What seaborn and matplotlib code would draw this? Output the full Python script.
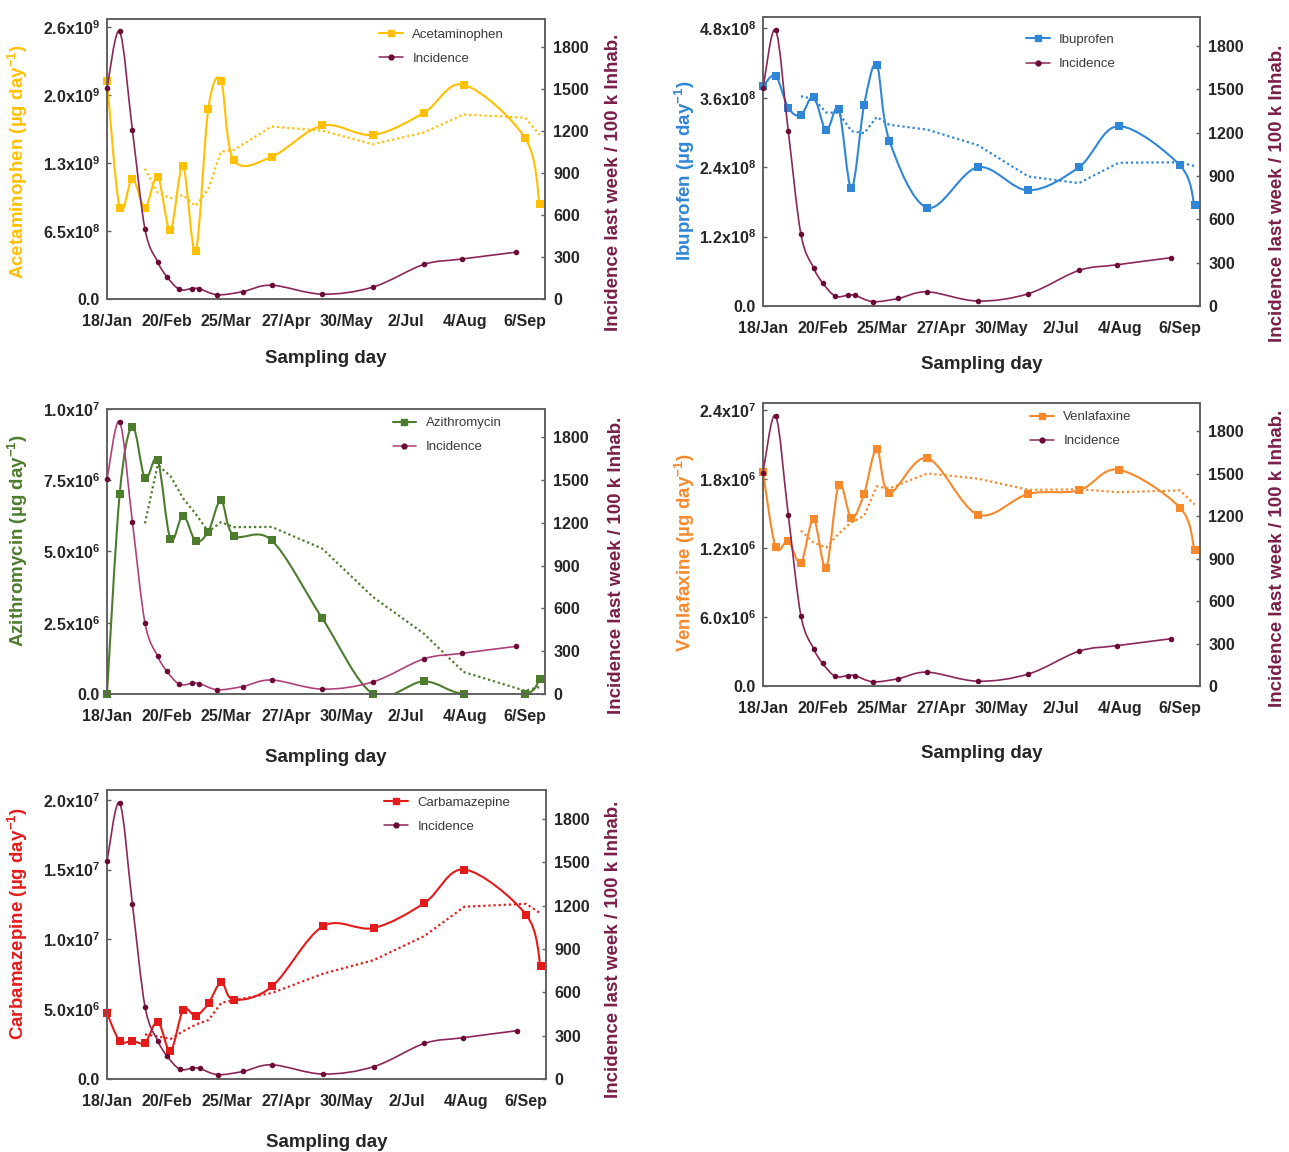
import numpy as np
import pandas as pd
import matplotlib
matplotlib.use("Agg")
import matplotlib.pyplot as plt
from matplotlib.path import Path
from matplotlib.patches import PathPatch
from matplotlib.lines import Line2D
import seaborn as sns

# days counted from 18 Jan (2021)
sample_day = [0, 7, 14, 21, 28, 35, 42, 49, 56, 63, 70, 91, 119, 147, 175, 197, 231, 239]
incid_day = [0, 7, 14, 21, 28, 33, 40, 47, 51, 61, 75, 91, 119, 147, 175, 196, 226]
incidence = [1505, 1910, 1210, 498, 265, 160, 68, 74, 73, 30, 52, 98, 34, 85, 246, 285, 334]

acetaminophen = [2.09e9, 8.75e8, 1.15e9, 8.75e8, 1.17e9, 6.6e8, 1.27e9, 4.6e8, 1.82e9, 2.09e9,
                 1.33e9, 1.36e9, 1.66e9, 1.57e9, 1.78e9, 2.05e9, 1.54e9, 9.1e8]
ibuprofen = [3.80e8, 3.98e8, 3.43e8, 3.30e8, 3.62e8, 3.04e8, 3.40e8, 2.04e8, 3.47e8, 4.17e8,
             2.86e8, 1.70e8, 2.40e8, 2.00e8, 2.40e8, 3.11e8, 2.43e8, 1.74e8]
azithromycin = [0, 7.0e6, 9.38e6, 7.57e6, 8.21e6, 5.44e6, 6.26e6, 5.37e6, 5.70e6, 6.79e6,
                5.56e6, 5.39e6, 2.65e6, 0, 4.4e5, 0, 0, 5.4e5]
venlafaxine = [1.86e7, 1.21e7, 1.26e7, 1.07e7, 1.45e7, 1.03e7, 1.75e7, 1.46e7, 1.67e7, 2.06e7,
               1.68e7, 1.98e7, 1.49e7, 1.67e7, 1.70e7, 1.88e7, 1.55e7, 1.18e7]
carbamazepine = [4.71e6, 2.73e6, 2.73e6, 2.61e6, 4.11e6, 2.01e6, 4.95e6, 4.52e6, 5.43e6, 6.91e6,
                 5.67e6, 6.63e6, 1.093e7, 1.081e7, 1.26e7, 1.50e7, 1.177e7, 8.06e6]

x_ticks = [0, 33, 66, 99, 132, 165, 198, 231]
x_labels = ["18/Jan", "20/Feb", "25/Mar", "27/Apr", "30/May", "2/Jul", "4/Aug", "6/Sep"]
inc_ticks = [0, 300, 600, 900, 1200, 1500, 1800]

acet_ticks = [0, 6.5e8, 1.3e9, 1.95e9, 2.6e9]
acet_labels = ["0.0", r"6.5x10$^{\mathbf{8}}$", r"1.3x10$^{\mathbf{9}}$", r"2.0x10$^{\mathbf{9}}$", r"2.6x10$^{\mathbf{9}}$"]
ibu_ticks = [0, 1.2e8, 2.4e8, 3.6e8, 4.8e8]
ibu_labels = ["0.0", r"1.2x10$^{\mathbf{8}}$", r"2.4x10$^{\mathbf{8}}$", r"3.6x10$^{\mathbf{8}}$", r"4.8x10$^{\mathbf{8}}$"]
azi_ticks = [0, 2.5e6, 5.0e6, 7.5e6, 1.0e7]
azi_labels = ["0.0", r"2.5x10$^{\mathbf{6}}$", r"5.0x10$^{\mathbf{6}}$", r"7.5x10$^{\mathbf{6}}$", r"1.0x10$^{\mathbf{7}}$"]
ven_ticks = [0, 6e6, 1.2e7, 1.8e7, 2.4e7]
ven_labels = ["0.0", r"6.0x10$^{\mathbf{6}}$", r"1.2x10$^{\mathbf{6}}$", r"1.8x10$^{\mathbf{6}}$", r"2.4x10$^{\mathbf{7}}$"]
car_ticks = [0, 5e6, 1.0e7, 1.5e7, 2.0e7]
car_labels = ["0.0", r"5.0x10$^{\mathbf{6}}$", r"1.0x10$^{\mathbf{7}}$", r"1.5x10$^{\mathbf{7}}$", r"2.0x10$^{\mathbf{7}}$"]

sns.set_style("white")
plt.rcParams["font.family"] = ["Liberation Sans", "DejaVu Sans"]
plt.rcParams["mathtext.fontset"] = "custom"
plt.rcParams["mathtext.rm"] = "Liberation Sans"
plt.rcParams["mathtext.bf"] = "Liberation Sans:bold"
plt.rcParams["axes.edgecolor"] = "#5e5e5e"
plt.rcParams["axes.linewidth"] = 1.1

INC_MARK = "#6b0a36"
INC_LABEL = "#7a1f4a"


def smooth_path(x, y):
    # excel-like smoothed line: cubic bezier through the points
    pts = np.column_stack([x, y]).astype(float)
    n = len(pts)
    verts = [pts[0]]
    codes = [Path.MOVETO]
    for i in range(n - 1):
        p0 = pts[max(i - 1, 0)]
        p1 = pts[i]
        p2 = pts[i + 1]
        p3 = pts[min(i + 2, n - 1)]
        verts += [p1 + (p2 - p0) / 6, p2 - (p3 - p1) / 6, p2]
        codes += [Path.CURVE4] * 3
    return Path(verts, codes)


# name, data, colour, axes rect, ymax, ticks, ticklabels, incidence line colour,
# legend anchor, xlabel pad, left label pos, right label pos
panels = [
    ("Acetaminophen", acetaminophen, "#ffc000", [0.0830, 0.7405, 0.3398, 0.2431], 2.68e9,
     acet_ticks, acet_labels, "#8a2758", (0.61, 0.985), 15.5, (-0.176, 0.49), (1.137, 0.418)),
    ("Ibuprofen", ibuprofen, "#2f86d6", [0.5919, 0.7344, 0.3390, 0.2509], 5.0e8,
     ibu_ticks, ibu_labels, "#8a2758", (0.59, 0.96), 15, (-0.151, 0.467), (1.157, 0.39)),
    ("Azithromycin", azithromycin, "#4d7c2e", [0.0830, 0.3976, 0.3398, 0.2474], 1.0e7,
     azi_ticks, azi_labels, "#b0407a", (0.64, 0.99), 18, (-0.176, 0.54), (1.144, 0.453)),
    ("Venlafaxine", venlafaxine, "#f7892b", [0.5919, 0.4045, 0.3390, 0.2457], 2.46e7,
     ven_ticks, ven_labels, "#8a2758", (0.60, 0.99), 21, (-0.151, 0.47), (1.157, 0.452)),
    ("Carbamazepine", carbamazepine, "#e31b1b", [0.0830, 0.0634, 0.3406, 0.2509], 2.07e7,
     car_ticks, car_labels, "#8a2758", (0.62, 0.995), 18.5, (-0.176, 0.536), (1.134, 0.45)),
]

fig = plt.figure(figsize=(12.89, 11.52), dpi=100)

for (name, vals, color, rect, ytop, yt, yl, inc_line, leg_pos, xpad,
     lpos, rpos) in panels:
    ax = fig.add_axes(rect)
    ax2 = ax.twinx()

    trend = pd.Series(vals).rolling(4).mean()
    df = pd.DataFrame({"day": sample_day, "load": vals, "trend": trend})

    ax.add_patch(PathPatch(smooth_path(df["day"], df["load"]), facecolor="none",
                           edgecolor=color, lw=1.5, zorder=2))
    sns.lineplot(data=df, x="day", y="trend", ax=ax, color=color, lw=1.6,
                 linestyle=(0, (1, 1.3)), zorder=1)
    sns.scatterplot(data=df, x="day", y="load", ax=ax, marker="s", s=32, color=color,
                    edgecolor=color, linewidth=0, clip_on=False, zorder=3)

    ax2.add_patch(PathPatch(smooth_path(incid_day, incidence), facecolor="none",
                            edgecolor=inc_line, lw=1.2, zorder=2))
    sns.scatterplot(x=incid_day, y=incidence, ax=ax2, marker="o", s=16, color=INC_MARK,
                    edgecolor=INC_MARK, linewidth=0, clip_on=False, zorder=3)

    ax.set_xlim(0, 242)
    ax.set_ylim(0, ytop)
    ax2.set_ylim(0, 2000)

    ax.set_xticks(x_ticks)
    ax.set_xticklabels(x_labels, fontsize=11.5, fontweight="bold")
    ax.set_yticks(yt)
    ax.set_yticklabels(yl, fontsize=11.5, fontweight="bold")
    ax2.set_yticks(inc_ticks)
    ax2.set_yticklabels([str(t) for t in inc_ticks], fontsize=11.5, fontweight="bold")

    ax.tick_params(axis="x", direction="in", length=4, width=1, color="#5e5e5e", pad=10.5)
    ax.tick_params(axis="y", direction="in", length=3, width=1, color="#5e5e5e", pad=5)
    ax2.tick_params(axis="y", direction="in", length=3, width=1, color="#5e5e5e", pad=6)

    ax.set_xlabel("Sampling day", fontsize=13.5, fontweight="bold", labelpad=xpad)
    ax.set_ylabel(name + r" (µg day$^{\mathbf{-1}}$)", fontsize=13.5, fontweight="bold",
                  color=color)
    ax.yaxis.set_label_coords(*lpos)
    ax2.set_ylabel("Incidence last week / 100 k Inhab.", fontsize=13.5, fontweight="bold",
                   color=INC_LABEL)
    ax2.yaxis.set_label_coords(*rpos)

    handles = [
        Line2D([0], [0], color=color, lw=1.5, marker="s", markersize=5),
        Line2D([0], [0], color=inc_line, lw=1.1, marker="o", markersize=3.5,
               markerfacecolor=INC_MARK, markeredgecolor=INC_MARK),
    ]
    leg = ax2.legend(handles, [name, "Incidence"], loc="upper left", bbox_to_anchor=leg_pos,
                     frameon=False, fontsize=9.5, handlelength=1.8, handletextpad=0.7,
                     labelspacing=0.9, borderaxespad=0)
    for t in leg.get_texts():
        t.set_color("#3a3a3a")

fig.savefig("out.png", dpi=100)
